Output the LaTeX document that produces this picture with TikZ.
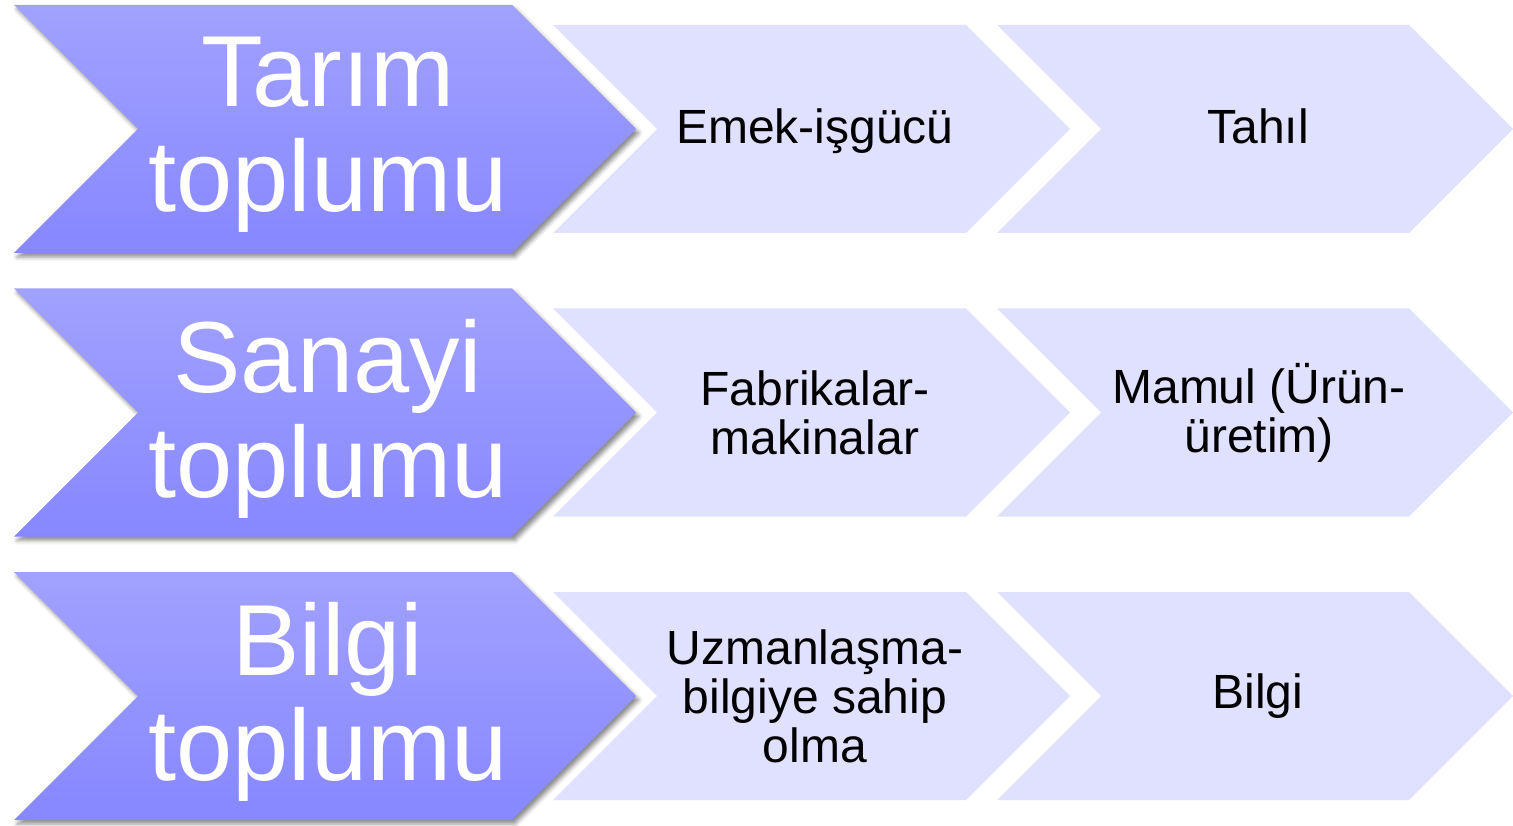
\documentclass[tikz,border=0pt]{standalone}
\usepackage{fontspec}
\setmainfont{Liberation Sans}
\usetikzlibrary{shadows.blur}

\definecolor{stagetop}{RGB}{161,161,255}
\definecolor{stagebot}{RGB}{135,135,255}
\definecolor{itemfill}{RGB}{224,224,255}

\begin{document}
\begin{tikzpicture}[x=1pt,y=-1pt,
    stage/.style={top color=stagetop,bottom color=stagebot,draw=none,
      blur shadow={shadow xshift=3pt,shadow yshift=-4pt,shadow blur radius=4pt,shadow opacity=45}},
    item/.style={fill=itemfill,draw=none},
    stagetext/.style={text=white,align=center,inner sep=0pt,
      font=\fontsize{101}{105}\selectfont},
    itemtext/.style={text=black,align=center,inner sep=0pt,
      font=\fontsize{48}{49}\selectfont}]

    \useasboundingbox (0,0) rectangle (1513,826);

    % light chevrons
    \foreach \dy in {0,283.5,567} {
        \path[item] (553,25+\dy) -- (966,25+\dy) -- (1070,129+\dy) -- (966,233+\dy)
                    -- (553,233+\dy) -- (657,129+\dy) -- cycle;
        \path[item] (997,25+\dy) -- (1409,25+\dy) -- (1513,129+\dy) -- (1409,233+\dy)
                    -- (997,233+\dy) -- (1101,129+\dy) -- cycle;
    }

    % big chevrons
    \foreach \dy in {0,283.5,567} {
        \path[stage] (14,5+\dy) -- (512,5+\dy) -- (636,129+\dy) -- (512,253+\dy)
                     -- (14,253+\dy) -- (138,129+\dy) -- cycle;
    }

    \node[stagetext] (tarim) at (328,135) {Tarım\\toplumu};
    \node[stagetext] (sanayi) at (328,418.5) {Sanayi\\toplumu};
    \node[stagetext] (bilgi) at (328,702) {Bilgi\\toplumu};

    \node[itemtext] (emek) at (815,131) {Emek-işgücü};
    \node[itemtext,anchor=base] (tahil) at (1258,144) {Tahıl};

    \node[itemtext] (fabrika) at (815,413) {Fabrikalar-\\makinalar};
    \node[itemtext] (mamul) at (1259,413) {Mamul (Ürün-\\üretim)};

    \node[itemtext] (uzman) at (815,696) {Uzmanlaşma-\\bilgiye sahip\\olma};
    \node[itemtext] (bilgiout) at (1258,696) {Bilgi};

\end{tikzpicture}
\end{document}
